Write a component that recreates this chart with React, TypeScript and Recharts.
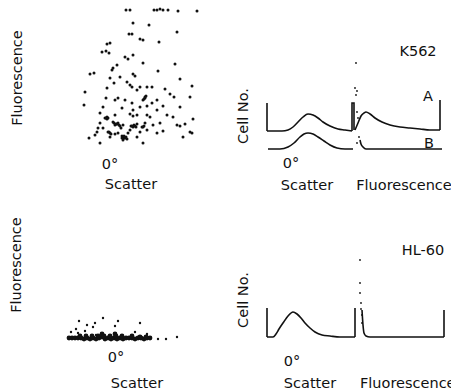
import React from 'react';
import { ScatterChart, Scatter, ComposedChart, Line, XAxis, YAxis } from 'recharts';

type Pt = [number, number];

// K562 scatter vs fluorescence dot plot (scatter channel, fluorescence channel)
const K562_DOTS: Pt[] = [
  [46, 140], [50, 140], [74, 140], [77, 140], [80, 141], [83, 140], [88, 140], [98, 139], [117, 139],
  [53, 127], [69, 125], [97, 118], [49, 116], [52, 116], [60, 111], [63, 110], [79, 108], [30, 107],
  [27, 106], [22, 98], [26, 99], [29, 97], [45, 93], [48, 91], [53, 95], [63, 87], [95, 86], [37, 85],
  [33, 82], [32, 80], [10, 76], [14, 77], [53, 76], [55, 74], [78, 79], [40, 73], [100, 71], [47, 68],
  [50, 65], [52, 63], [34, 67], [30, 72], [57, 60], [60, 63], [67, 63], [72, 63], [85, 61], [112, 64],
  [5, 58], [27, 62], [66, 54], [63, 50], [65, 53], [90, 56], [94, 53], [110, 53], [26, 52], [35, 50],
  [38, 52], [45, 50], [52, 47], [72, 47], [77, 50], [4, 45], [23, 43], [83, 44], [60, 43], [67, 44],
  [42, 42], [53, 40], [77, 40], [100, 43], [20, 37], [27, 33], [28, 32], [25, 32], [35, 35], [50, 36],
  [53, 34], [57, 35], [67, 35], [70, 33], [87, 35], [93, 33], [113, 31], [33, 28], [37, 26], [38, 27],
  [35, 25], [43, 25], [52, 24], [55, 24], [57, 26], [63, 23], [65, 27], [73, 25], [80, 27], [97, 25],
  [100, 24], [105, 26], [20, 27], [18, 22], [17, 18], [23, 22], [28, 18], [30, 17], [35, 16], [38, 17],
  [42, 14], [44, 12], [46, 13], [43, 10], [48, 17], [60, 18], [67, 20], [77, 17], [83, 19], [103, 13],
  [110, 18], [112, 17], [9, 12], [15, 15], [20, 7], [30, 13], [63, 7], [57, 13], [50, 20], [41, 22],
  [36, 26], [34, 27], [39, 25], [54, 25], [56, 23], [45, 12], [47, 11], [42, 12], [31, 16], [29, 18],
  [65, 52], [64, 51], [62, 23], [64, 24], [26, 32], [27, 31], [51, 24], [53, 23], [40, 24], [44, 14],
];

// HL-60 dot plot: sparse events and the dense low-fluorescence band
const HL60_DOTS: Pt[] = [
  [11, 18], [16, 21], [19, 29], [18, 17], [27, 25], [25, 19], [33, 23], [35, 27], [43, 32], [36, 15],
  [55, 24], [58, 29], [80, 27], [75, 18], [87, 16], [98, 11], [106, 11], [117, 13],
];
const HL60_BAND: Pt[] = [
  [9, 12], [12, 12], [15, 12], [18, 12], [21, 12], [24, 11], [27, 12], [30, 11], [33, 12], [36, 11],
  [39, 12], [42, 13], [45, 11], [48, 12], [51, 11], [54, 12], [57, 11], [60, 12], [63, 11], [66, 12],
  [69, 12], [72, 12], [75, 11], [78, 12], [81, 12], [84, 11], [87, 12], [90, 12],
  [20, 14], [26, 14], [32, 14], [38, 14], [42, 16], [44, 14], [50, 14], [55, 16], [56, 14], [62, 14],
  [72, 14], [80, 13], [86, 13],
];

// K562 histograms (channel, cell no.)
const K562_SCATTER_A: Pt[] = [[7, 24], [22, 24], [28, 25], [33, 28], [38, 33], [43, 38], [48, 41], [53, 40], [58, 37], [63, 33], [70, 29], [78, 26], [85, 25], [92, 24]];
const K562_SCATTER_A_EDGES: Pt[][] = [[[7, 52], [7, 24]], [[92, 24], [92, 52], [94, 52], [94, 25]]];
const K562_FLUOR_A: Pt[] = [[95, 25], [98, 32], [101, 39], [104, 42], [106, 43], [110, 41], [115, 37], [122, 33], [130, 30], [140, 28], [150, 27], [160, 26], [170, 25], [180, 25]];
const K562_FLUOR_A_EDGES: Pt[][] = [[[180, 25], [180, 55]]];
const K562_SCATTER_B: Pt[] = [[8, 6], [20, 6], [28, 8], [34, 12], [40, 18], [44, 21], [48, 22], [53, 21], [58, 18], [64, 14], [70, 10], [77, 7], [85, 6], [93, 6]];
const K562_FLUOR_B: Pt[] = [[100, 15], [101, 11], [103, 8], [106, 6], [120, 6], [150, 6], [182, 6]];
const K562_GATE: Pt[] = [[96, 92], [95, 67], [97, 64], [96, 60], [97, 43], [98, 37], [99, 18], [97, 12]];

// HL-60 histograms
const HL60_SCATTER: Pt[] = [[7, 8], [13, 8], [16, 11], [19, 16], [23, 22], [28, 29], [33, 33], [37, 31], [41, 27], [45, 22], [50, 17], [55, 13], [62, 10], [70, 9], [80, 8], [95, 8]];
const HL60_SCATTER_EDGES: Pt[][] = [[[7, 37], [7, 8]], [[95, 8], [95, 37]]];
const HL60_FLUOR: Pt[] = [[102, 35], [103, 20], [104, 12], [106, 9], [110, 8], [150, 8], [184, 8]];
const HL60_FLUOR_EDGES: Pt[][] = [[[184, 8], [184, 35]]];
const HL60_GATE: Pt[] = [[100, 85], [100, 62], [100, 52], [101, 42], [101, 36], [102, 30], [102, 22]];

const INK = '#111';
const FONT = '"DejaVu Sans", sans-serif';

const pts = (a: Pt[]) => a.map(([x, y]) => ({ x, y }));

const dot = (r: number) => (p: any) => <circle cx={p.cx} cy={p.cy} r={r} fill={INK} />;

const Txt = ({ x, y, text, rotate = false, start = false }: { x: number; y: number; text: string; rotate?: boolean; start?: boolean }) => (
  <div
    style={{
      position: 'absolute',
      left: x,
      top: y,
      transform: `translate(${start ? '0' : '-50%'}, -50%)${rotate ? ' rotate(-90deg)' : ''}`,
      fontFamily: FONT,
      fontSize: 14.5,
      lineHeight: 1,
      color: INK,
      whiteSpace: 'nowrap',
    }}
  >
    {text}
  </div>
);

const DotPlot = ({ left, top, width, height, xMax, yMax, series }: any) => (
  <div style={{ position: 'absolute', left, top }}>
    <ScatterChart width={width} height={height} margin={{ top: 0, right: 0, bottom: 0, left: 0 }}>
      <XAxis type="number" dataKey="x" domain={[0, xMax]} hide />
      <YAxis type="number" dataKey="y" domain={[0, yMax]} hide />
      {series.map((s: any, i: number) => (
        <Scatter key={i} data={pts(s.data)} shape={dot(s.r)} isAnimationActive={false} />
      ))}
    </ScatterChart>
  </div>
);

const Histo = ({ left, top, width, height, xMax, yMax, curves, edges, gate }: any) => (
  <div style={{ position: 'absolute', left, top }}>
    <ComposedChart width={width} height={height} margin={{ top: 0, right: 0, bottom: 0, left: 0 }}>
      <XAxis type="number" dataKey="x" domain={[0, xMax]} allowDataOverflow hide />
      <YAxis type="number" dataKey="y" domain={[0, yMax]} allowDataOverflow hide />
      {curves.map((c: Pt[], i: number) => (
        <Line key={`c${i}`} data={pts(c)} dataKey="y" type="monotone" stroke={INK} strokeWidth={1.6} dot={false} isAnimationActive={false} />
      ))}
      {edges.map((c: Pt[], i: number) => (
        <Line key={`e${i}`} data={pts(c)} dataKey="y" type="linear" stroke={INK} strokeWidth={1.6} dot={false} isAnimationActive={false} />
      ))}
      <Scatter data={pts(gate)} shape={dot(0.9)} isAnimationActive={false} />
    </ComposedChart>
  </div>
);

export default function App() {
  return (
    <div style={{ position: 'absolute', left: 0, top: 0, width: 451, height: 391, background: '#fff', overflow: 'hidden' }}>
      {/* K562 */}
      <DotPlot left={80} top={5} width={125} height={145} xMax={125} yMax={145} series={[{ data: K562_DOTS, r: 1.5 }]} />
      <Txt x={17} y={78} text="Fluorescence" rotate />
      <Txt x={110} y={164} text="0°" />
      <Txt x={131} y={184} text="Scatter" />

      <Histo
        left={260}
        top={55}
        width={191}
        height={100}
        xMax={191}
        yMax={100}
        curves={[K562_SCATTER_A, K562_FLUOR_A, K562_SCATTER_B, K562_FLUOR_B]}
        edges={[...K562_SCATTER_A_EDGES, ...K562_FLUOR_A_EDGES]}
        gate={K562_GATE}
      />
      <Txt x={418} y={51} text="K562" />
      <Txt x={243} y={116} text="Cell No." rotate />
      <Txt x={428} y={96} text="A" />
      <Txt x={429} y={143} text="B" />
      <Txt x={291} y={163} text="0°" />
      <Txt x={307} y={185} text="Scatter" />
      <Txt x={404} y={185} text="Fluorescence" />

      {/* HL-60 */}
      <DotPlot
        left={60}
        top={300}
        width={125}
        height={50}
        xMax={125}
        yMax={50}
        series={[{ data: HL60_BAND, r: 2.4 }, { data: HL60_DOTS, r: 1.2 }]}
      />
      <Txt x={16} y={265} text="Fluorescence" rotate />
      <Txt x={116} y={357} text="0°" />
      <Txt x={137} y={383} text="Scatter" />

      <Histo
        left={260}
        top={250}
        width={191}
        height={95}
        xMax={191}
        yMax={95}
        curves={[HL60_SCATTER, HL60_FLUOR]}
        edges={[...HL60_SCATTER_EDGES, ...HL60_FLUOR_EDGES]}
        gate={HL60_GATE}
      />
      <Txt x={423} y={250} text="HL-60" />
      <Txt x={243} y={300} text="Cell No." rotate />
      <Txt x={292} y={361} text="0°" />
      <Txt x={310} y={383} text="Scatter" />
      <Txt x={360} y={383} text="Fluorescence" start />
    </div>
  );
}
